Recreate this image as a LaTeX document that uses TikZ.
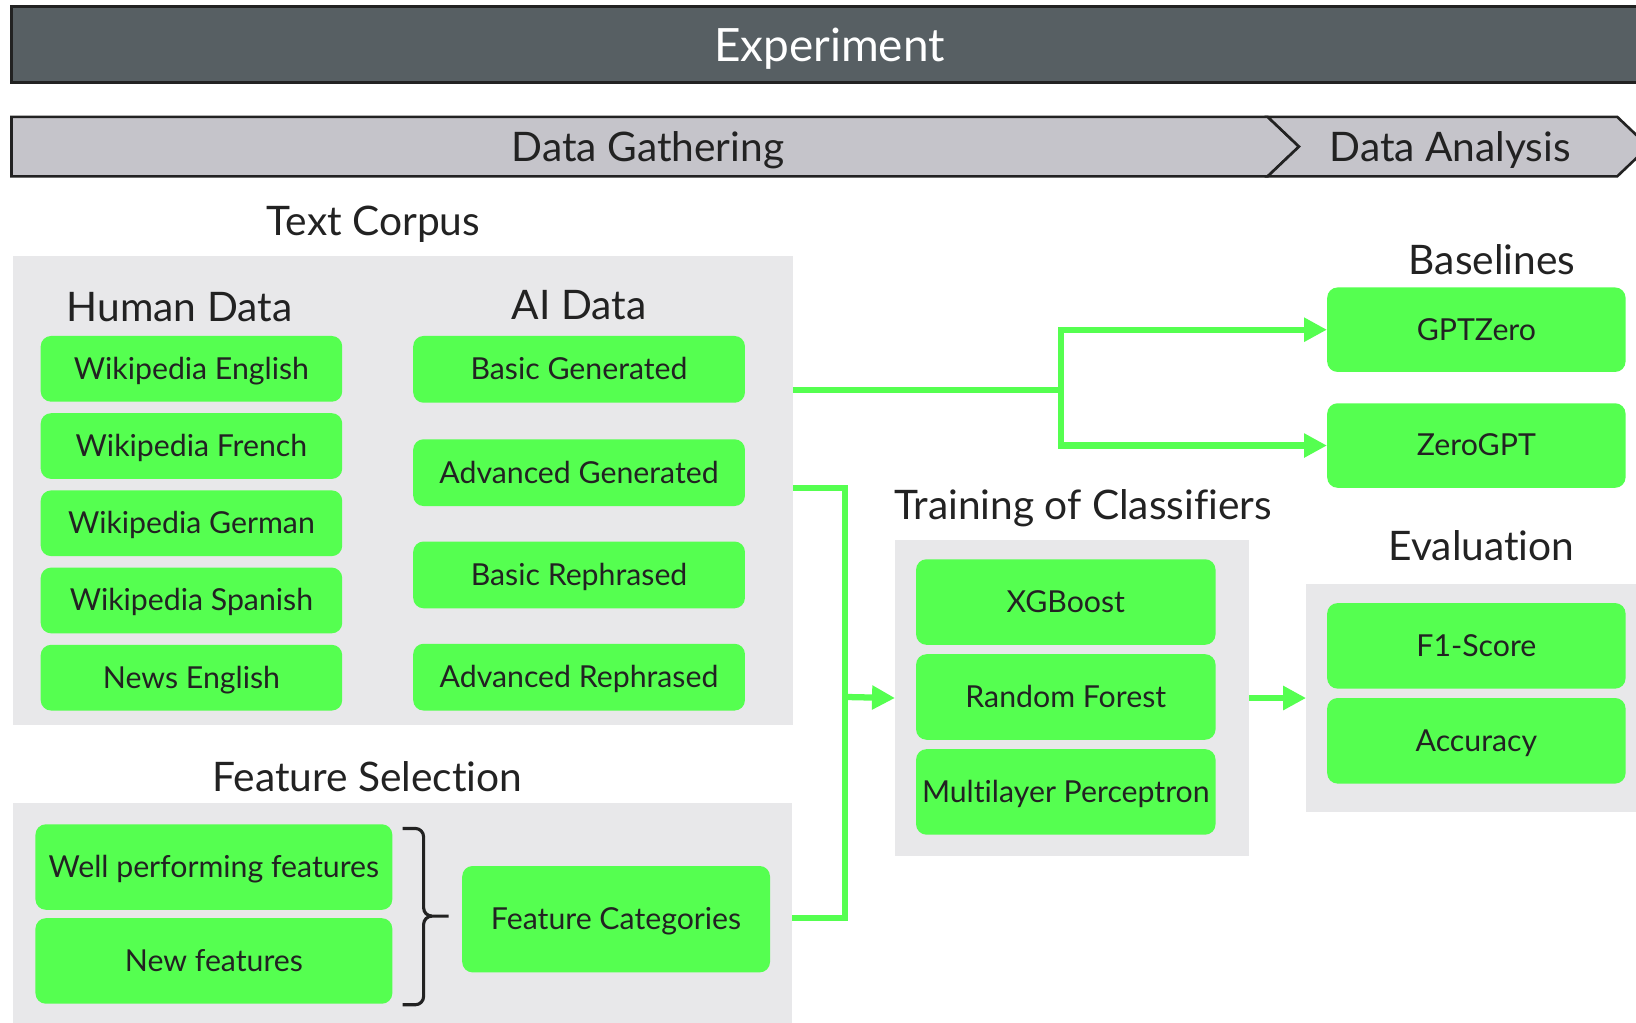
\documentclass[tikz,border=0pt]{standalone}
\usepackage{fontspec}
\setmainfont{Lato}[Ligatures=NoCommon]
\usetikzlibrary{arrows.meta}
\definecolor{expfill}{RGB}{87,95,99}
\definecolor{phasefill}{RGB}{197,196,202}
\definecolor{panelfill}{RGB}{232,232,234}
\definecolor{grn}{RGB}{85,255,80}
\definecolor{ink}{RGB}{34,34,34}
\newcommand{\boxfont}{\fontsize{29}{33}\selectfont}
\newcommand{\headfont}{\fontsize{39}{43}\selectfont}
\tikzset{
  gbox/.style={fill=grn, rounded corners=10pt, text=ink, font=\boxfont, inner sep=0pt,
               text height=20pt, text depth=0pt},
  panel/.style={fill=panelfill, inner sep=0pt},
  heading/.style={text=ink, font=\headfont, inner sep=0pt, text height=27pt, text depth=0pt},
  phase/.style={fill=phasefill, draw=ink, line width=2.5pt, line join=miter},
  conn/.style={draw=grn, line width=6pt},
  arr/.style={conn, -{Triangle[length=22pt,width=22pt]}},
}
\begin{document}
\begin{tikzpicture}[x=1pt,y=-1pt]
\useasboundingbox (0,0) rectangle (1568,980);
\clip (0,0) rectangle (1568,980);

% top banner
\filldraw[fill=expfill, draw=ink, line width=2.5pt] (11,6) rectangle (1600,79);
\node[text=white, font=\fontsize{44}{48}\selectfont, inner sep=0pt, text height=31pt, text depth=0pt] (exptitle) at (795,43) {Experiment};

% phase chevrons
\draw[phase] (11,112) -- (1215,112) -- (1245,140.5) -- (1215,169) -- (11,169) -- cycle;
\draw[phase] (1215,112) -- (1550,112) -- (1580,140.5) -- (1550,169) -- (1215,169) -- (1245,140.5) -- cycle;
\node[heading] (gathering) at (621,141) {Data Gathering};
\node[heading] (analysis) at (1390,141) {Data Analysis};

% text corpus
\node[heading] (corpustitle) at (358,212) {Text Corpus};
\node[panel, minimum width=748pt, minimum height=450pt] (corpus) at (386,470) {};
\node[heading] (humantitle) at (172,295) {Human Data};
\node[heading] (aititle) at (555,293) {AI Data};

\node[gbox, minimum width=289pt, minimum height=63pt] (wen) at (183.5,353.5) {Wikipedia English};
\node[gbox, minimum width=289pt, minimum height=63pt] (wfr) at (183.5,427.5) {Wikipedia French};
\node[gbox, minimum width=289pt, minimum height=63pt] (wde) at (183.5,501.5) {Wikipedia German};
\node[gbox, minimum width=289pt, minimum height=63pt] (wes) at (183.5,575.5) {Wikipedia Spanish};
\node[gbox, minimum width=289pt, minimum height=63pt] (nen) at (183.5,649.5) {News English};

\node[gbox, minimum width=318pt, minimum height=64pt] (bgen) at (555,354) {Basic Generated};
\node[gbox, minimum width=318pt, minimum height=64pt] (agen) at (555,453) {Advanced Generated};
\node[gbox, minimum width=318pt, minimum height=64pt] (breph) at (555,551) {Basic Rephrased};
\node[gbox, minimum width=318pt, minimum height=64pt] (areph) at (555,649) {Advanced Rephrased};

% feature selection
\node[heading] (feattitle) at (352,745) {Feature Selection};
\node[panel, minimum width=747pt, minimum height=220pt] (featpanel) at (385.5,880) {};
\node[gbox, minimum width=342pt, minimum height=82pt] (wellf) at (205,831) {Well performing features};
\node[gbox, minimum width=342pt, minimum height=82pt] (newf) at (205,921) {New features};
\node[gbox, minimum width=295pt, minimum height=102pt] (featcat) at (590.5,881) {Feature Categories};
\draw[ink, line width=3pt, line join=round]
  (386,794) -- (398,794) to[out=0,in=90] (406,802) -- (406,870)
  to[out=-90,in=180] (414,878) -- (430,878);
\draw[ink, line width=3pt, line join=round]
  (414,878) to[out=180,in=90] (406,886) -- (406,955)
  to[out=-90,in=0] (398,963) -- (386,963);

% classifiers
\node[heading] (traintitle) at (1038,484) {Training of Classifiers};
\node[panel, minimum width=339pt, minimum height=302pt] (train) at (1027.5,669) {};
\node[gbox, minimum width=287pt, minimum height=82pt] (xgb) at (1021.5,577) {XGBoost};
\node[gbox, minimum width=287pt, minimum height=82pt] (rf) at (1021.5,668) {Random Forest};
\node[gbox, minimum width=287pt, minimum height=82pt] (mlp) at (1021.5,759) {Multilayer Perceptron};

% baselines
\node[heading] (basetitle) at (1430,250) {Baselines};
\node[gbox, minimum width=286pt, minimum height=81pt] (gptz) at (1415,316) {GPTZero};
\node[gbox, minimum width=286pt, minimum height=81pt] (zgpt) at (1415,427) {ZeroGPT};

% evaluation
\node[heading] (evaltitle) at (1420,524) {Evaluation};
\node[panel, minimum width=348pt, minimum height=218pt] (evalpanel) at (1426,669) {};
\node[gbox, minimum width=286pt, minimum height=82pt] (f1) at (1415,619) {F1-Score};
\node[gbox, minimum width=286pt, minimum height=82pt] (acc) at (1415,710) {Accuracy};

% connectors
\coordinate (aiout) at (760,374);
\coordinate (split) at (1017,374);
\coordinate (aiout2) at (760,468);
\coordinate (join) at (810,668);
\draw[conn] (aiout) -- (split);
\draw[arr] (split) |- (gptz.west);
\draw[arr] (split) |- (zgpt.west);
\draw[conn] (aiout2) -| (join);
\draw[conn] (featpanel.east) -| (join);
\draw[arr] (join) -- (train.west);
\draw[arr] (train.east) -- (evalpanel.west);
\end{tikzpicture}
\end{document}
